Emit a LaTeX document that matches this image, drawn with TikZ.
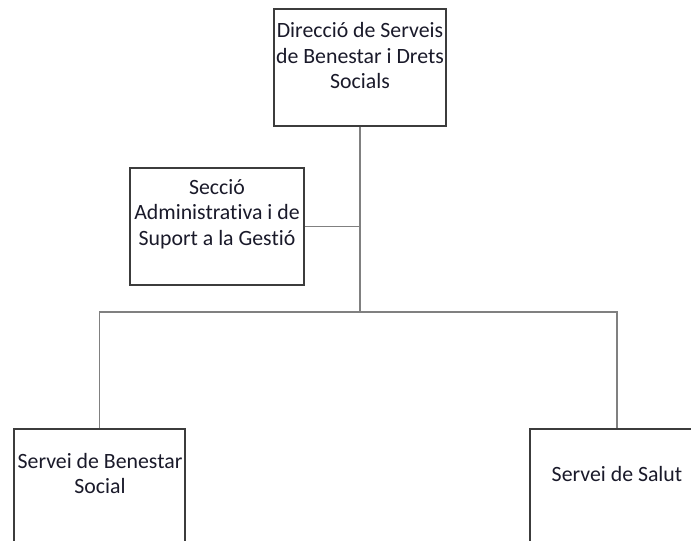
\documentclass[tikz,border=0pt]{standalone}
\usepackage{fontspec}
\setmainfont{Carlito}[Ligatures={NoCommon,NoRare,NoContextual}]
\definecolor{boxline}{HTML}{3C3C3C}
\definecolor{connline}{HTML}{808080}
\definecolor{txtcol}{HTML}{1A1A2A}
\begin{document}
\begin{tikzpicture}[x=1pt,y=-1pt,
  orgbox/.style={draw=boxline, line width=1.3pt, fill=white, inner sep=0pt, rectangle},
  orgtxt/.style={anchor=base, align=center, inner sep=0pt, text=txtcol, font=\fontsize{21.8}{25.5}\selectfont},
  conn/.style={draw=connline, line width=1.5pt}]
\clip (0,0) rectangle (691,541);
\fill[white] (0,0) rectangle (691,541);
% boxes
\node[orgbox, minimum width=172pt, minimum height=117pt] (dir) at (360,67.5) {};
\node[orgbox, minimum width=174pt, minimum height=117pt] (sec) at (217,226.5) {};
\node[orgbox, minimum width=171pt, minimum height=140pt] (sbs) at (99.5,499) {};
\node[orgbox, minimum width=174pt, minimum height=140pt] (sal) at (617,499) {};
\coordinate (bus) at (360,312);
% connectors
\draw[conn] (dir.south) -- (bus);
\draw[conn] (sec.east) -- (sec.east -| dir.south);
\draw[conn] (sbs.north) |- (bus) -| (sal.north);
% texts (base = baseline of the last line)
\node[orgtxt] (dirt) at (360,88.5) {Direcció de Serveis\\de Benestar i Drets\\Socials};
\node[orgtxt] (sect) at (217,245) {Secció\\Administrativa i de\\Suport a la Gestió};
\node[orgtxt] (sbst) at (100,493.5) {Servei de Benestar\\Social};
\node[orgtxt] (salt) at (617,481) {Servei de Salut};
\end{tikzpicture}
\end{document}
